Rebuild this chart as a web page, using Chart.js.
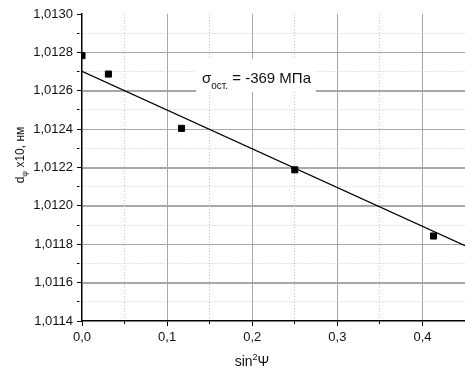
<!DOCTYPE html>
<html>
<head>
<meta charset="utf-8">
<script src="https://cdn.jsdelivr.net/npm/chart.js@4"></script>
<style>
  html, body { margin: 0; padding: 0; background: #fff; }
  #wrap { position: relative; width: 465px; height: 372px; }
  #wrap canvas { position: absolute; left: 0; top: 0; }
</style>
</head>
<body>
<div id="wrap">
  <canvas id="under" width="465" height="372"></canvas>
  <canvas id="c" width="465" height="372"></canvas>
  <canvas id="notes" width="465" height="372"></canvas>
</div>
<script>
// Measured interplanar spacing d(psi) x10 (nm) against sin^2(psi)
const sin2psi  = [0, 0.031, 0.117, 0.25, 0.413];
const dSpacing = [1.012783, 1.012687, 1.012404, 1.012188, 1.011843];

// Linear fit drawn across the whole axis range
const fitX = [0, 0.45];
const fitY = [1.012701, 1.011793];

// Axis ranges; every other tick (minor step) is a labelled major tick
const xRange = [0, 0.45];
const yRange = [1.0114, 1.0130];
const xMinorStep = 0.05;
const yMinorStep = 0.0001;
const xMajorTicks = [0.1, 0.2, 0.3, 0.4];
const yMajorTicks = [1.0116, 1.0118, 1.0120, 1.0122, 1.0124, 1.0126, 1.0128];

// Residual stress from the slope, MPa
const stressMPa = -369;

const FONT = "'Liberation Sans', Arial, sans-serif";
Chart.defaults.font.family = FONT;
Chart.defaults.font.size = 13;
Chart.defaults.color = '#111';

const MAJOR_GRID = '#a8a8a8';
const MINOR_GRID = '#c6c6c6';
const CLEAR = 'rgba(0,0,0,0)';
const comma = (v, d) => Number(v).toFixed(d).replace('.', ',');
const isMinor = c => c.index % 2 === 1;
const isEdge = (c, n) => c.index === 0 || c.index === n - 1;
const noPad = s => { s.paddingLeft = 0; s.paddingRight = 0; s.paddingTop = 0; s.paddingBottom = 0; };

const axisCommon = (decimals) => ({
  ticks: {
    padding: 4, maxRotation: 0, autoSkip: false,
    callback: function (v, i, all) {
      if (i % 2 === 1) return '';
      if (this.isHorizontal() && i === all.length - 1) return '';
      return comma(v, decimals);
    }
  },
  grid: {
    lineWidth: 1, tickLength: 5, tickWidth: 1, tickColor: '#000',
    tickBorderDash: c => isMinor(c) ? [2.5, 20] : []
  },
  border: {
    color: '#000', width: 1.5,
    dash: c => isMinor(c) ? [1, 2] : []
  }
});

const xAxis = axisCommon(1);
const yAxis = axisCommon(4);

const chart = new Chart(document.getElementById('c'), {
  type: 'scatter',
  data: {
    datasets: [
      {
        data: sin2psi.map((v, i) => ({ x: v, y: dSpacing[i] })),
        pointStyle: 'rect',
        pointRadius: 4.3,
        pointBackgroundColor: '#000',
        pointBorderColor: '#000',
        pointBorderWidth: 1,
        showLine: false,
        clip: 0
      },
      {
        data: fitX.map((v, i) => ({ x: v, y: fitY[i] })),
        showLine: true,
        borderColor: '#000',
        borderWidth: 1.2,
        pointRadius: 0,
        clip: 0
      }
    ]
  },
  options: {
    responsive: false,
    animation: false,
    events: [],
    layout: { autoPadding: false, padding: { top: 14, right: 0, left: 0, bottom: 0 } },
    plugins: { legend: { display: false }, tooltip: { enabled: false } },
    scales: {
      x: {
        type: 'linear', position: 'bottom',
        min: xRange[0], max: xRange[1],
        afterFit: s => { s.height = 51; noPad(s); },
        ticks: Object.assign({ stepSize: xMinorStep }, xAxis.ticks),
        grid: Object.assign({
          color: c => isEdge(c, 10) ? CLEAR : (isMinor(c) ? MINOR_GRID : MAJOR_GRID)
        }, xAxis.grid),
        border: xAxis.border
      },
      y: {
        type: 'linear', position: 'left',
        min: yRange[0], max: yRange[1],
        afterFit: s => { s.width = 82; noPad(s); },
        ticks: Object.assign({ stepSize: yMinorStep }, yAxis.ticks),
        grid: Object.assign({
          color: c => isEdge(c, 17) ? CLEAR : (isMinor(c) ? MINOR_GRID : MAJOR_GRID)
        }, yAxis.grid),
        border: yAxis.border
      }
    }
  }
});

// Solid major grid on a layer beneath the chart, placed by the chart's scales
(function drawMajorGrid() {
  const ctx = document.getElementById('under').getContext('2d');
  const area = chart.chartArea;
  const sx = chart.scales.x, sy = chart.scales.y;
  ctx.strokeStyle = MAJOR_GRID;
  ctx.lineWidth = 1;
  ctx.beginPath();
  xMajorTicks.forEach(v => {
    const px = Math.round(sx.getPixelForValue(v)) + 0.5;
    ctx.moveTo(px, area.top);
    ctx.lineTo(px, area.bottom);
  });
  yMajorTicks.forEach(v => {
    const py = Math.round(sy.getPixelForValue(v)) + 0.5;
    ctx.moveTo(area.left, py);
    ctx.lineTo(area.right, py);
  });
  ctx.stroke();
})();

// Annotation and axis titles (with sub/superscripts) on a layer above the chart
(function drawNotes() {
  const ctx = document.getElementById('notes').getContext('2d');
  ctx.textBaseline = 'alphabetic';
  ctx.textAlign = 'left';

  const runs = (parts, cx, cy) => {
    let w = 0;
    parts.forEach(p => { ctx.font = p[1] + 'px ' + FONT; w += ctx.measureText(p[0]).width; });
    let px = cx - w / 2;
    parts.forEach(p => {
      ctx.font = p[1] + 'px ' + FONT;
      ctx.fillText(p[0], px, cy + p[2]);
      px += ctx.measureText(p[0]).width;
    });
  };

  ctx.fillStyle = '#fff';
  ctx.fillRect(196, 59, 120, 33);
  ctx.fillStyle = '#111';
  let x = 202;
  ctx.font = '15px ' + FONT;
  ctx.fillText('σ', x, 83);
  x += ctx.measureText('σ').width;
  ctx.font = '10px ' + FONT;
  ctx.fillText('ост.', x, 89);
  x += ctx.measureText('ост.').width;
  ctx.font = '15px ' + FONT;
  ctx.fillText(' = ' + stressMPa + ' МПа', x, 83);

  runs([['sin', 14, 0], ['2', 9, -6], ['Ψ', 14, 0]], 252, 366);

  ctx.save();
  ctx.translate(24, 155);
  ctx.rotate(-Math.PI / 2);
  runs([['d', 12, 0], ['ψ', 8, 3], [' x10, нм', 12, 0]], 0, 0);
  ctx.restore();
})();
</script>
</body>
</html>
